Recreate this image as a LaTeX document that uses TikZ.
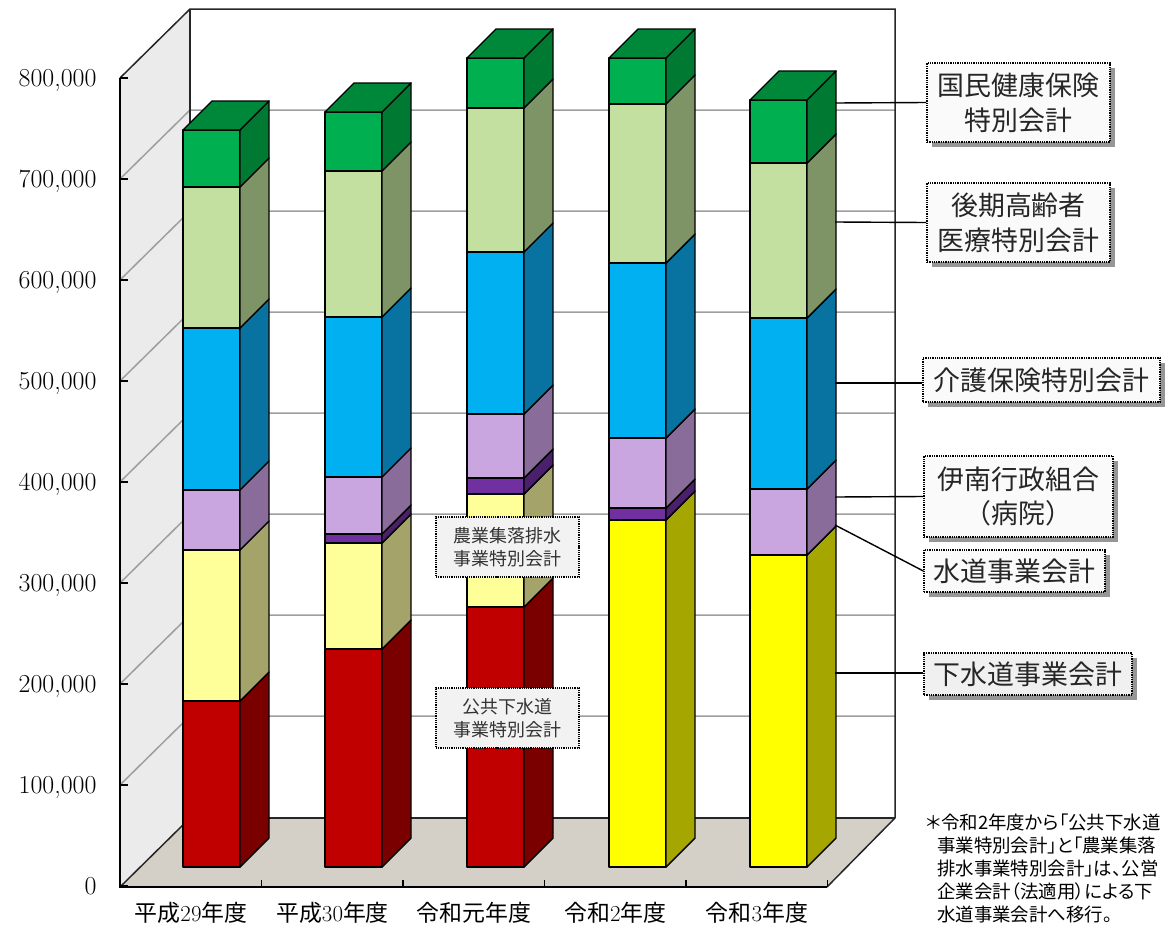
\documentclass[tikz,border=0pt]{standalone}
\usepackage{fontspec}
\newfontfamily\jp{Noto Sans CJK JP}
\newfontfamily\jpp{Noto Sans CJK JP}[RawFeature=+palt]
\usetikzlibrary{shadows}

\definecolor{redF}{HTML}{C00000}  \definecolor{redS}{HTML}{7A0000}
\definecolor{lyelF}{HTML}{FFFF99} \definecolor{lyelS}{HTML}{A4A46A}
\definecolor{yelF}{HTML}{FFFF00}  \definecolor{yelS}{HTML}{A6A600}
\definecolor{dpurF}{HTML}{7030A0} \definecolor{dpurS}{HTML}{4A1F6B}
\definecolor{lavF}{HTML}{C9A6E0}  \definecolor{lavS}{HTML}{8A6C9A}
\definecolor{bluF}{HTML}{00B0F0}  \definecolor{bluS}{HTML}{0872A0}
\definecolor{lgrF}{HTML}{C4E0A0}  \definecolor{lgrS}{HTML}{7E9466}
\definecolor{grnF}{HTML}{00B050}  \definecolor{grnS}{HTML}{007A33}
\definecolor{grnT}{HTML}{00883A}
\definecolor{sidewall}{HTML}{EBEBEB}
\definecolor{floorc}{HTML}{D4D0C8}

\newcommand{\yr}[2]{{\jp #1}#2{\jp 年度}}

\tikzset{
  barline/.style={draw=black, line width=1.4bp, line join=round},
  grid/.style={draw=black!38, line width=1.5bp},
  frame/.style={draw=black!85, line width=1.5bp},
  axis/.style={draw=black, line width=1.8bp},
  ylab/.style={anchor=base east, font=\fontsize{26}{30}\selectfont},
  xlab/.style={anchor=base, inner sep=1bp, font=\fontsize{23}{28}\selectfont},
  callout/.style={draw=black, densely dotted, line width=1.3bp, fill=black!2,
    align=center, inner sep=0pt, text=black!85,
    font=\jp\fontsize{27}{35}\selectfont,
    drop shadow={shadow xshift=5bp, shadow yshift=-5bp, fill=black!75, opacity=.55}},
  midbox/.style={draw=black, densely dotted, line width=1.2bp, fill=black!5,
    align=center, inner sep=0pt, text=black!80,
    minimum width=143bp, minimum height=60bp,
    font=\jp\fontsize{18}{23}\selectfont},
  leader/.style={draw=black, line width=1.4bp},
  note/.style={anchor=north west, align=left, inner sep=0pt,
    font=\jpp\fontsize{18.5}{23}\selectfont}
}

\begin{document}
\begin{tikzpicture}[x=1bp,y=-1bp]
\useasboundingbox (0,0) rectangle (1170,928);
% walls and floor
\fill[sidewall] (120,78) -- (190,9) -- (190,818) -- (120,887) -- cycle;
\fill[floorc] (120,887) -- (190,818) -- (895,818) -- (827,887) -- cycle;
\foreach \k in {1,...,7}
  \draw[grid] (120,886-101*\k) -- (190,817-101*\k) -- (895,817-101*\k);
\draw[frame] (120,78) -- (190,9) -- (895,9) -- (895,818);
\draw[frame] (190,9) -- (190,818) -- (895,818);
\draw[frame] (120,887) -- (190,818);
\draw[frame] (827,887) -- (895,818);
% axes
\draw[axis] (120,78) -- (120,887) -- (827,887);
\foreach \k in {0,...,8}
  \draw[axis] (120,886-101*\k) -- ++(8,0);
\foreach \k in {1,...,5}
  \draw[axis] (120+141.5*\k,887) -- ++(0,-7);
\foreach \k/\t in {0/0,1/{100,000},2/{200,000},3/{300,000},4/{400,000},
    5/{500,000},6/{600,000},7/{700,000},8/{800,000}}
  \node[ylab] (y\k) at (100,894-101*\k) {\t};
\node[xlab] (h29) at (191,921) {\yr{平成}{29}};
\node[xlab] (h30) at (332.5,921) {\yr{平成}{30}};
\node[xlab] (r1)  at (474,921) {\yr{令和元}{}};
\node[xlab] (r2)  at (615.5,921) {\yr{令和}{2}};
\node[xlab] (r3)  at (757,921) {\yr{令和}{3}};
% bars
\foreach \x/\a/\b/\f/\s in {
  183/867/701/redF/redS, 183/701/550/lyelF/lyelS, 183/550/490/lavF/lavS,
  183/490/328/bluF/bluS, 183/328/187/lgrF/lgrS, 183/187/130/grnF/grnS,
  325/867/649/redF/redS, 325/649/543/lyelF/lyelS, 325/543/534/dpurF/dpurS,
  325/534/477/lavF/lavS, 325/477/317/bluF/bluS, 325/317/171/lgrF/lgrS,
  325/171/112/grnF/grnS,
  467/867/607/redF/redS, 467/607/494/lyelF/lyelS, 467/494/478/dpurF/dpurS,
  467/478/414/lavF/lavS, 467/414/252/bluF/bluS, 467/252/108/lgrF/lgrS,
  467/108/58/grnF/grnS,
  609/867/520/yelF/yelS, 609/520/508/dpurF/dpurS, 609/508/438/lavF/lavS,
  609/438/263/bluF/bluS, 609/263/104/lgrF/lgrS, 609/104/58/grnF/grnS,
  750/867/555/yelF/yelS, 750/555/489/lavF/lavS, 750/489/318/bluF/bluS,
  750/318/163/lgrF/lgrS, 750/163/100/grnF/grnS}
{
  \draw[barline, fill=\f] (\x,\a) rectangle (\x+57,\b);
  \draw[barline, fill=\s] (\x+57,\a) -- (\x+86,\a-29) -- (\x+86,\b-29) -- (\x+57,\b) -- cycle;
}
\foreach \x/\t in {183/130,325/112,467/58,609/58,750/100}
  \draw[barline, fill=grnT] (\x,\t) -- (\x+29,\t-29) -- (\x+86,\t-29) -- (\x+57,\t) -- cycle;
% labels inside R1 bar
\node[midbox] (nougyou) at (507.5,547) {農業集落排水\\事業特別会計};
\node[midbox] (koukyou) at (507.5,718) {公共下水道\\事業特別会計};
% callouts
\coordinate (c1) at (835,103);
\coordinate (c2) at (835,222);
\coordinate (c3) at (835,383);
\coordinate (c4) at (835,497);
\coordinate (c5) at (835,525);
\coordinate (c6) at (835,673);
\node[callout, minimum width=183bp, minimum height=79bp] (kokumin) at (1018.5,102.5) {国民健康保険\\特別会計};
\node[callout, minimum width=183bp, minimum height=79bp] (kouki) at (1018.5,222.5) {後期高齢者\\医療特別会計};
\node[callout, minimum width=237bp, minimum height=44bp] (kaigo) at (1041.5,380) {介護保険特別会計};
\node[callout, minimum width=189bp, minimum height=81bp] (inan) at (1018.5,496.5) {伊南行政組合\\（病院）};
\node[callout, minimum width=181bp, minimum height=42bp] (suidou) at (1014.5,571) {水道事業会計};
\node[callout, minimum width=208bp, minimum height=42bp, fill=black!6] (gesui) at (1028,674) {下水道事業会計};
\draw[leader] (c1) -- (kokumin.west);
\draw[leader] (c2) -- (kouki.west);
\draw[leader] (c3) -- (c3 -| kaigo.west);
\draw[leader] (c4) -- (inan.west);
\draw[leader] (c5) -- (suidou.west);
\draw[leader] (c6) -- (c6 -| gesui.west);
% footnote
\node[note] (memo) at (926,814) {＊令和2年度から「公共下水道\\
\hspace*{0.6em}事業特別会計」と「農業集落\\
\hspace*{0.6em}排水事業特別会計」は、公営\\
\hspace*{0.6em}企業会計（法適用）による下\\
\hspace*{0.6em}水道事業会計へ移行。};
\end{tikzpicture}
\end{document}
